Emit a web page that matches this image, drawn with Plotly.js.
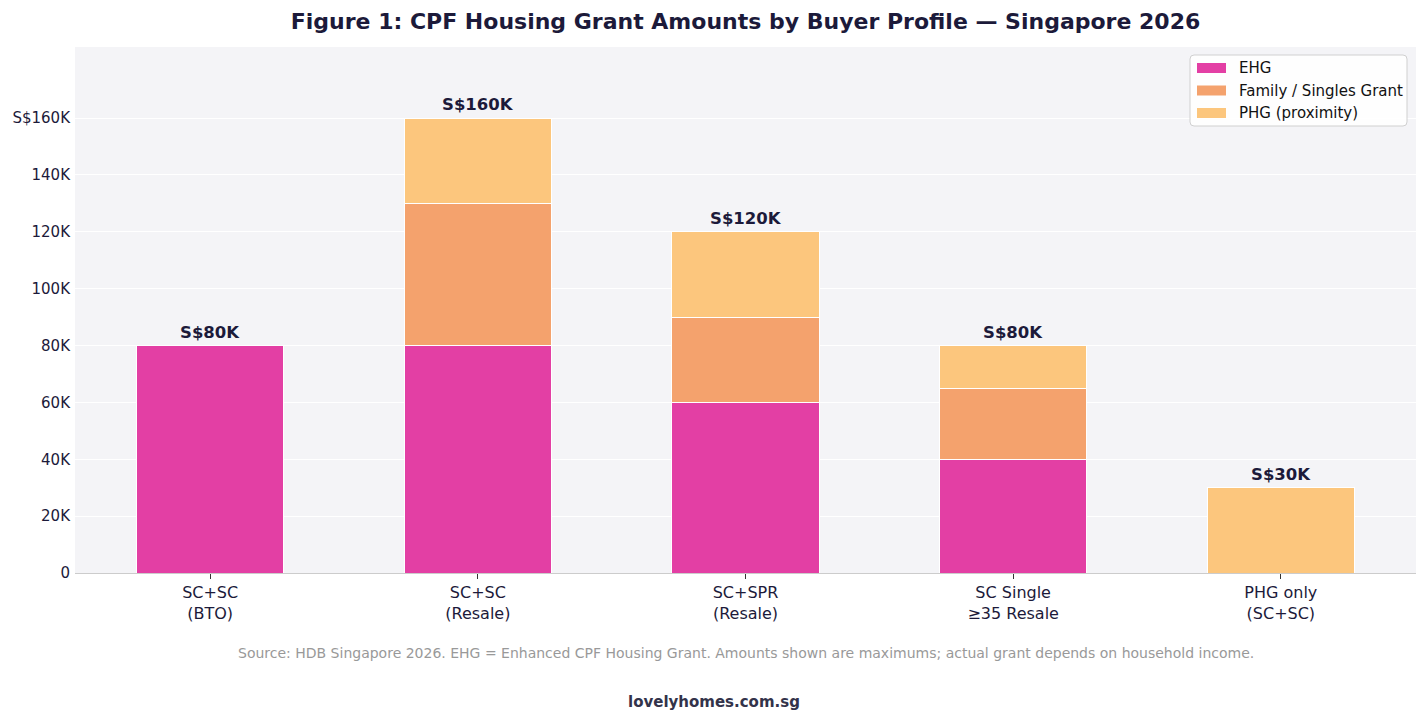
<!DOCTYPE html>
<html>
<head>
<meta charset="utf-8">
<script src="https://cdn.plot.ly/plotly-3.0.1.min.js"></script>
<style>
  html, body { margin: 0; padding: 0; background: #ffffff; }
  #chart { width: 1427px; height: 721px; }
</style>
</head>
<body>
<div id="chart"></div>
<script>
// Buyer profiles (x categories)
const categories = ["SC+SC<br>(BTO)", "SC+SC<br>(Resale)", "SC+SPR<br>(Resale)", "SC Single<br>≥35 Resale", "PHG only<br>(SC+SC)"];

// Grant components in S$
const ehg = [80000, 80000, 60000, 40000, 0];
const familySingles = [0, 50000, 30000, 25000, 0];
const phg = [0, 30000, 30000, 15000, 30000];

// Total labels shown above each stack
const totalLabels = ["S$80K", "S$160K", "S$120K", "S$80K", "S$30K"];

// Y-axis ticks
const tickVals = [0, 20000, 40000, 60000, 80000, 100000, 120000, 140000, 160000];
const tickText = ["0", "20K", "40K", "60K", "80K", "100K", "120K", "140K", "S$160K"];

// Series names and colours
const seriesNames = ["EHG", "Family / Singles Grant", "PHG (proximity)"];
const seriesColors = ["#e33fa4", "#f4a26d", "#fcc67d"];

const FONT = "DejaVu Sans, Noto Sans, sans-serif";
const DARK = "#1c1a3a";

// Plot area geometry in pixels (used to place the legend box)
const W = 1427, H = 721;
const M = { l: 75, r: 11, t: 47, b: 148 };
const PW = W - M.l - M.r, PH = H - M.t - M.b;
const px = v => (v - M.l) / PW;
const py = v => (H - M.b - v) / PH;

const totals = categories.map((_, i) => ehg[i] + familySingles[i] + phg[i]);

function barTrace(name, values, color) {
  return {
    type: "bar",
    name: name,
    x: categories,
    y: values,
    width: 0.55,
    marker: { color: color, line: { color: "#ffffff", width: 1 } },
    hoverinfo: "x+y+name",
    showlegend: false
  };
}

const seriesValues = [ehg, familySingles, phg];
const data = seriesNames.map((n, i) => barTrace(n, seriesValues[i], seriesColors[i]));

const annotations = categories.map((c, i) => ({
  x: c, y: totals[i], xref: "x", yref: "y",
  text: "<b>" + totalLabels[i] + "</b>",
  showarrow: false, yanchor: "bottom", yshift: 2,
  font: { family: FONT, size: 16.5, color: DARK }
}));

annotations.push({
  xref: "paper", yref: "paper", x: 0.5, y: -0.152, xanchor: "center", yanchor: "middle",
  text: "Source: HDB Singapore 2026. EHG = Enhanced CPF Housing Grant. Amounts shown are maximums; actual grant depends on household income.",
  showarrow: false, font: { family: FONT, size: 14, color: "#999999" }
});
annotations.push({
  xref: "paper", yref: "paper", x: px(713.5), y: -0.245, xanchor: "center", yanchor: "middle",
  text: "<b>lovelyhomes.com.sg</b>",
  showarrow: false, font: { family: FONT, size: 15, color: "#33334a" }
});

// Legend: rounded box with wide colour patches
const shapes = [];
const bx0 = px(1190), bx1 = px(1407), by0 = py(126), by1 = py(55);
const rx = 4 / PW, ry = 4 / PH;
shapes.push({
  type: "path", xref: "paper", yref: "paper", layer: "above",
  path: `M ${bx0 + rx},${by1} L ${bx1 - rx},${by1} Q ${bx1},${by1} ${bx1},${by1 - ry} ` +
        `L ${bx1},${by0 + ry} Q ${bx1},${by0} ${bx1 - rx},${by0} ` +
        `L ${bx0 + rx},${by0} Q ${bx0},${by0} ${bx0},${by0 + ry} ` +
        `L ${bx0},${by1 - ry} Q ${bx0},${by1} ${bx0 + rx},${by1} Z`,
  fillcolor: "rgba(255,255,255,0.85)", line: { color: "#d0d0d0", width: 1 }
});
const rowY = [68, 90.5, 113];
seriesNames.forEach((n, i) => {
  shapes.push({
    type: "rect", xref: "paper", yref: "paper", layer: "above",
    x0: px(1197), x1: px(1226), y0: py(rowY[i] + 5), y1: py(rowY[i] - 5),
    fillcolor: seriesColors[i], line: { width: 0 }
  });
  annotations.push({
    xref: "paper", yref: "paper", x: px(1237), y: py(rowY[i]),
    xanchor: "left", yanchor: "middle", showarrow: false,
    text: n, font: { family: FONT, size: 15, color: "#111111" }
  });
});

const layout = {
  width: W, height: H,
  margin: M,
  paper_bgcolor: "#ffffff",
  plot_bgcolor: "#f4f4f7",
  barmode: "stack",
  title: {
    text: "<b>Figure 1: CPF Housing Grant Amounts by Buyer Profile — Singapore 2026</b>",
    xref: "paper", x: 0.5, xanchor: "center", y: 0.97, yanchor: "middle",
    font: { family: FONT, size: 22, color: DARK }
  },
  font: { family: FONT, color: DARK },
  xaxis: {
    type: "category",
    range: [-0.505, 4.505],
    showgrid: false,
    showline: true, linecolor: "#cccccc", linewidth: 1,
    ticks: "outside", ticklen: 5, tickcolor: "#333333",
    tickfont: { family: FONT, size: 16, color: DARK },
    zeroline: false
  },
  yaxis: {
    range: [0, 185000],
    tickvals: tickVals, ticktext: tickText,
    showgrid: true, gridcolor: "#ffffff", gridwidth: 1,
    showline: false, zeroline: false, ticks: "",
    ticklabelstandoff: 4,
    tickfont: { family: FONT, size: 15, color: DARK }
  },
  annotations: annotations,
  shapes: shapes,
  showlegend: false
};

Plotly.newPlot("chart", data, layout, { displayModeBar: false, responsive: false });
</script>
</body>
</html>
